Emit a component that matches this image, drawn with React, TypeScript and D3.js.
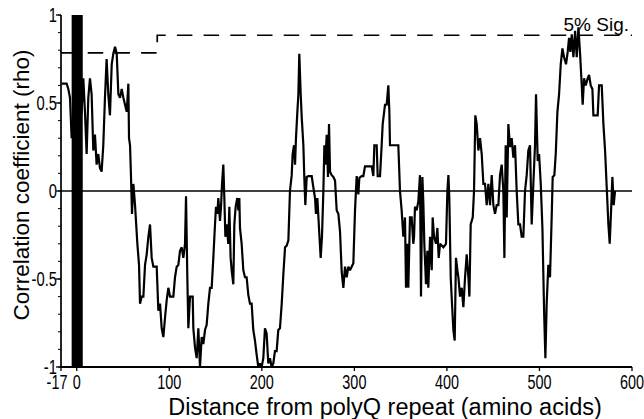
import React from "react";
import * as d3 from "d3";

// Distance from polyQ repeat (amino acids)
const posX: number[] = [
  -16.3, -10.9, -9.1, -7.3, -5.5, -2, 2, 5.3, 7.1, 8.9, 10.7, 12.5, 14.3, 16.1, 17.9, 19.7, 21.5, 23.3, 25.1, 26.9,
  28.7, 30.5, 32.3, 34.1, 35.9, 37.8, 39.5, 41.4, 43.2, 45.0, 46.8, 48.6, 50.4, 52.2, 54.0, 55.8, 56.5, 57.6, 58.6, 59.7,
  61.2, 63.0, 65.5, 67.3, 68.4, 70.2, 72.0, 73.8, 75.6, 77.4, 79.2, 81.0, 82.8, 86.4, 88.2, 90.0, 91.8, 93.6, 95.4, 97.2,
  99.0, 100.8, 104.4, 106.2, 108.0, 109.8, 111.6, 113.4, 115.2, 117.0, 118.1, 119.5, 120.6, 122.4, 125.3, 126.0, 127.8, 129.6, 131.4, 133.2,
  135.0, 136.8, 138.6, 140.4, 142.2, 144.0, 145.8, 147.6, 149.4, 150.5, 151.9, 153.0, 154.8, 155.9, 157.0, 158.4, 159.5, 160.6, 162.0, 163.8,
  164.9, 166.3, 167.4, 169.2, 170.3, 171.7, 173.5, 174.6, 175.7, 176.4, 178.2, 180.0, 181.8, 183.6, 185.4, 187.2, 189.0, 190.8, 192.6, 194.4,
  196.2, 198.0, 199.8, 201.6, 203.4, 205.2, 207.0, 208.8, 210.6, 212.4, 214.2, 216.0, 217.8, 219.6, 221.5, 223.3, 225.1, 226.9, 228.7, 230.4,
  232.3, 233.3, 234.8, 235.9, 236.9, 238.4, 239.5, 240.5, 242.0, 243.1, 244.9, 245.9, 247.0, 248.5, 250.3, 253.9, 255.7, 257.5, 258.5, 260.0,
  262.2, 263.6, 265.0, 266.5, 267.6, 268.6, 270.1, 271.5, 272.6, 273.7, 275.5, 277.3, 279.1, 280.9, 282.7, 284.5, 286.3, 288.1, 289.9, 291.7,
  293.5, 295.3, 297.1, 298.9, 300.7, 302.5, 304.3, 305.4, 307.9, 309.7, 311.5, 318.7, 320.5, 321.6, 324.1, 325.2, 327.7, 329.5, 330.6, 333.1,
  334.9, 336.7, 337.8, 338.5, 347.5, 349.3, 351.1, 352.9, 354.7, 355.8, 357.3, 358.3, 360.1, 361.9, 363.7, 364.5, 365.5, 367.3, 369.1, 370.9,
  372.0, 373.5, 374.6, 375.6, 377.4, 378.9, 379.9, 381.8, 383.6, 384.6, 386.1, 388.2, 389.7, 391.1, 392.6, 396.2, 399.0, 400.5, 401.6, 402.6,
  404.1, 405.5, 407.0, 408.4, 409.8, 411.3, 412.4, 414.2, 416.0, 417.8, 419.6, 421.4, 423.2, 424.3, 425.7, 427.9, 429.3, 430.7, 432.2, 434.0,
  435.8, 437.6, 439.4, 441.2, 443.0, 444.8, 446.6, 448.4, 450.2, 452.0, 453.8, 455.6, 457.4, 459.2, 461.0, 462.1, 463.5, 464.6, 466.4, 468.2,
  470.0, 471.8, 473.6, 475.4, 477.2, 479.0, 480.8, 482.6, 484.4, 486.2, 488.0, 489.8, 491.6, 493.4, 495.2, 496.3, 498.1, 499.6, 501.4, 503.2,
  505.0, 506.4, 507.8, 509.6, 511.4, 513.2, 514.3, 516.1, 517.6, 519.4, 521.2, 523.0, 524.8, 526.6, 528.7, 530.5, 532.0, 533.4, 534.9, 536.7,
  538.5, 540.3, 542.1, 543.9, 545.7, 546.7, 548.2, 550.0, 552.1, 553.6, 555.4, 557.2, 558.3, 562.9, 564.4, 567.3, 569.1, 570.9, 572.7, 574.5,
  575.9, 577.4, 578.8, 580.2, 581.7,
];

// Correlation coefficient (rho)
const rho: number[] = [
  0.61, 0.61, 0.58, 0.53, 0.30, 0.45, 0.35, 0.45, 0.64, 0.45, 0.21, 0.53, 0.64, 0.55, 0.23, 0.32, 0.15, 0.21, 0.13, 0.11,
  0.26, 0.53, 0.75, 0.55, 0.43, 0.72, 0.78, 0.82, 0.78, 0.55, 0.53, 0.58, 0.53, 0.49, 0.45, 0.61, 0.30, 0.26, 0.09, -0.13,
  0.04, -0.08, -0.30, -0.42, -0.64, -0.60, -0.60, -0.42, -0.36, -0.26, -0.19, -0.38, -0.43, -0.43, -0.68, -0.64, -0.78, -0.83, -0.72, -0.62,
  -0.55, -0.60, -0.60, -0.49, -0.43, -0.42, -0.34, -0.32, -0.38, -0.30, -0.03, -0.49, -0.78, -0.60, -0.60, -0.78, -0.89, -0.95, -0.78, -1.0,
  -0.83, -0.87, -0.79, -0.76, -0.64, -0.55, -0.55, -0.38, -0.19, -0.09, -0.13, -0.04, -0.17, -0.09, 0.04, 0.15, -0.04, -0.26, -0.19, -0.30,
  -0.09, -0.38, -0.45, -0.53, -0.19, -0.09, -0.04, -0.11, -0.04, -0.21, -0.30, -0.45, -0.49, -0.49, -0.59, -0.64, -0.64, -0.79, -0.85, -0.93,
  -1.0, -0.98, -1.0, -0.95, -0.78, -0.81, -0.98, -0.95, -1.0, -0.98, -0.91, -0.91, -0.79, -0.78, -0.64, -0.47, -0.32, -0.31, -0.28, 0.0,
  0.09, 0.21, 0.26, 0.15, 0.30, 0.45, 0.55, 0.78, 0.55, 0.42, 0.26, 0.08, -0.08, 0.08, 0.085, 0.085, 0.02, -0.04, -0.13, -0.04,
  -0.25, -0.38, -0.26, 0.0, 0.26, 0.15, 0.32, 0.08, 0.38, 0.11, 0.09, 0.08, 0.06, -0.11, -0.13, -0.23, -0.46, -0.55, -0.43, -0.49,
  -0.43, -0.45, -0.43, -0.41, -0.11, 0.085, -0.02, 0.075, 0.085, 0.085, 0.14, 0.14, 0.085, 0.26, 0.26, 0.085, 0.085, 0.26, 0.38, 0.49,
  0.49, 0.60, 0.45, 0.26, 0.26, 0.0, -0.11, -0.26, -0.15, -0.55, -0.30, -0.55, -0.15, -0.15, -0.30, -0.26, -0.09, -0.11, -0.06, 0.09,
  -0.60, 0.08, -0.08, -0.30, -0.53, -0.34, -0.55, -0.26, -0.45, -0.15, -0.26, -0.30, -0.21, -0.38, -0.30, -0.32, -0.30, 0.0, 0.09, -0.04,
  -0.49, -0.64, -0.79, -0.85, -0.38, -0.45, -0.49, -0.60, -0.55, -0.66, -0.49, -0.36, -0.49, -0.60, -0.19, -0.15, 0.0, 0.43, 0.38, 0.23,
  0.30, 0.21, 0.04, 0.04, -0.08, 0.04, -0.08, 0.09, -0.08, -0.13, -0.08, -0.08, 0.09, 0.15, 0.0, -0.38, 0.26, -0.15, 0.38, 0.25,
  0.30, 0.19, 0.26, 0.0, -0.19, -0.19, -0.26, -0.26, 0.0, 0.09, 0.23, 0.26, -0.19, 0.04, 0.26, 0.55, 0.17, 0.21, 0.04, -0.21,
  -0.68, -0.95, -0.64, -0.42, -0.49, -0.15, 0.08, 0.09, 0.21, 0.45, 0.55, 0.72, 0.81, 0.76, 0.72, 0.79, 0.87, 0.79, 0.89, 0.76,
  0.91, 0.76, 0.93, 0.78, 0.60, 0.49, 0.64, 0.60, 0.64, 0.66, 0.60, 0.58, 0.43, 0.43, 0.60, 0.60, 0.38, 0.23, 0.02, -0.19,
  -0.30, -0.11, 0.08, -0.08, 0.0,
];

// 5% significance threshold (step line)
const sigX: number[] = [-17, 87, 600];
const sigY: number[] = [0.785, 0.885, 0.885];
const sigLabel = "5% Sig.";

// polyQ repeat region (filled bar)
const polyQStart = -5.5;
const polyQEnd = 6.5;

const xTicks: number[] = [-17, 0, 100, 200, 300, 400, 500, 600];
const xTickLabels: string[] = ["-17", "0", "100", "200", "300", "400", "500", "600"];
const yTicks: number[] = [-1, -0.5, 0, 0.5, 1];
const yTickLabels: string[] = ["-1", "-0.5", "0", "0.5", "1"];
const yMinorTicks: number[] = d3.range(-10, 11).map((i) => i / 10);

const xTitle = "Distance from polyQ repeat (amino acids)";
const yTitle = "Correlation coefficient (rho)";

const FONT = "'Liberation Sans', Arial, Helvetica, sans-serif";

export default function App() {
  const W = 644;
  const H = 419;
  const x = d3.scaleLinear().domain([-17, 600]).range([61, 632]);
  const y = d3.scaleLinear().domain([-1, 1]).range([367, 15]);

  const pts: [number, number][] = posX.map((v, i) => [v, rho[i]]);
  const line = d3
    .line<[number, number]>()
    .x((d) => x(d[0]))
    .y((d) => y(d[1]));

  const sigPts: [number, number][] = sigX.map((v, i) => [v, sigY[i]]);
  const sigLine = d3
    .line<[number, number]>()
    .x((d) => x(d[0]))
    .y((d) => y(d[1]))
    .curve(d3.curveStepAfter);

  const x0 = x(-17);
  const x1 = x(600);
  const yBottom = y(-1);
  const yTop = y(1);

  return (
    <svg
      width={W}
      height={H}
      viewBox={`0 0 ${W} ${H}`}
      style={{ position: "absolute", left: 0, top: 0, display: "block", background: "#fff" }}
      fontFamily={FONT}
    >
      <rect x={0} y={0} width={W} height={H} fill="#fff" />

      {/* polyQ bar */}
      <rect
        x={x(polyQStart)}
        y={yTop}
        width={x(polyQEnd) - x(polyQStart)}
        height={yBottom - yTop}
        fill="#000"
      />

      {/* zero line */}
      <line x1={x0} x2={x1} y1={y(0)} y2={y(0)} stroke="#000" strokeWidth={1.3} />

      {/* significance threshold */}
      <path
        d={sigLine(sigPts) || ""}
        fill="none"
        stroke="#000"
        strokeWidth={1.7}
        strokeDasharray="15.5,11.2"
      />
      <text x={629} y={31} fontSize={19} textAnchor="end" fill="#000">
        {sigLabel}
      </text>

      {/* data */}
      <path
        d={line(pts) || ""}
        fill="none"
        stroke="#000"
        strokeWidth={2.2}
        strokeLinejoin="miter"
        strokeMiterlimit={2}
      />

      {/* axes */}
      <line x1={x0} x2={x0} y1={yTop} y2={yBottom + 1} stroke="#000" strokeWidth={1.7} />
      <line x1={x0 - 1} x2={x1} y1={yBottom} y2={yBottom} stroke="#000" strokeWidth={2.2} />

      {yMinorTicks.map((t) => (
        <line key={"ym" + t} x1={x0 - 3} x2={x0} y1={y(t)} y2={y(t)} stroke="#000" strokeWidth={1} />
      ))}
      {yTicks.map((t, i) => (
        <g key={"y" + t}>
          <line x1={x0 - 5} x2={x0} y1={y(t)} y2={y(t)} stroke="#000" strokeWidth={1.3} />
          <text
            transform={`translate(${x0 - 4},${y(t) + 7}) scale(0.72,1)`}
            fontSize={20.5}
            textAnchor="end"
            fill="#000"
          >
            {yTickLabels[i]}
          </text>
        </g>
      ))}

      {xTicks.map((t, i) => (
        <g key={"x" + t}>
          <line x1={x(t)} x2={x(t)} y1={yBottom} y2={yBottom + 4} stroke="#000" strokeWidth={1.3} />
          <text
            transform={`translate(${x(t) + (i === 0 ? -4 : 0)},389) scale(0.74,1)`}
            fontSize={19.5}
            textAnchor="middle"
            fill="#000"
          >
            {xTickLabels[i]}
          </text>
        </g>
      ))}

      {/* titles */}
      <text x={385} y={414.5} fontSize={23.5} textAnchor="middle" fill="#000">
        {xTitle}
      </text>
      <text
        transform={`translate(29,185) rotate(-90)`}
        fontSize={22.5}
        textAnchor="middle"
        fill="#000"
      >
        {yTitle}
      </text>
    </svg>
  );
}
